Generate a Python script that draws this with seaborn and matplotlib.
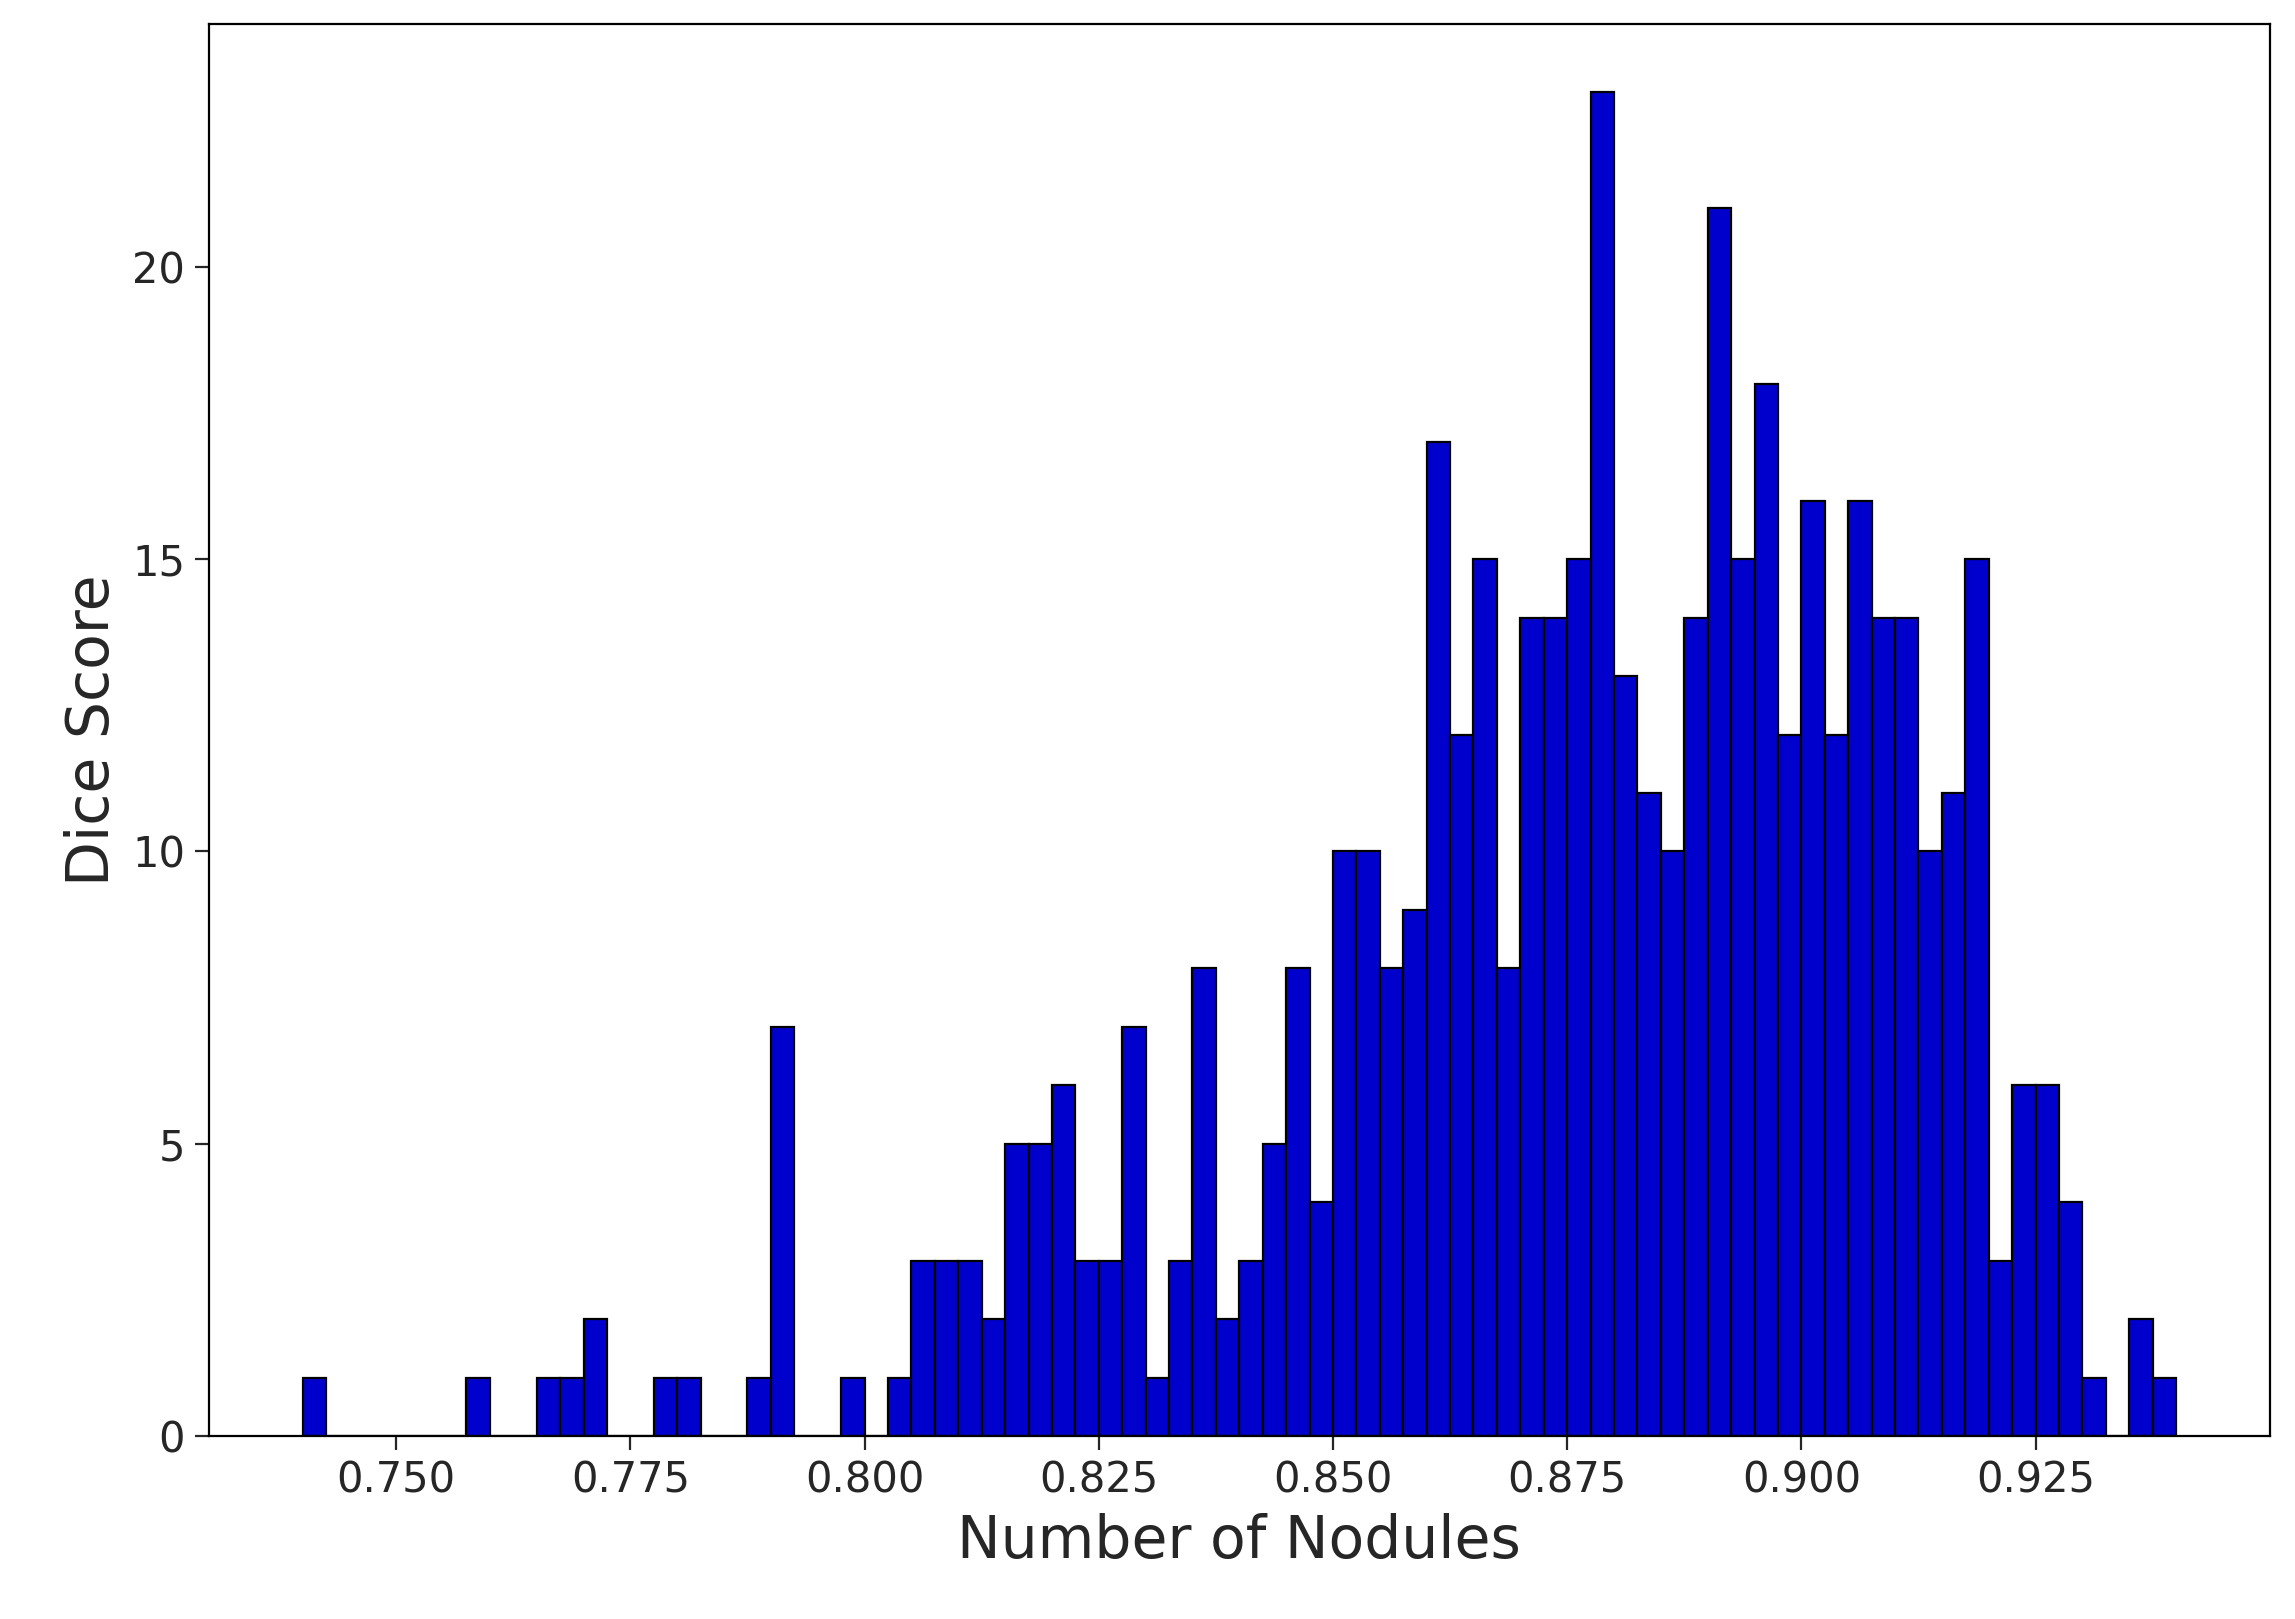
import numpy as np
import pandas as pd
import seaborn as sns
import matplotlib.pyplot as plt

bin_start = 0.740
bin_width = 0.0025
counts = [1, 0, 0, 0, 0, 0, 0, 1, 0, 0,
          1, 1, 2, 0, 0, 1, 1, 0, 0, 1,
          7, 0, 0, 1, 0, 1, 3, 3, 3, 2,
          5, 5, 6, 3, 3, 7, 1, 3, 8, 2,
          3, 5, 8, 4, 10, 10, 8, 9, 17, 12,
          15, 8, 14, 14, 15, 23, 13, 11, 10, 14,
          21, 15, 18, 12, 16, 12, 16, 14, 14, 10,
          11, 15, 3, 6, 6, 4, 1, 0, 2, 1]

edges = bin_start + bin_width * np.arange(len(counts) + 1)
df = pd.DataFrame({"dice": (edges[:-1] + edges[1:]) / 2, "n": counts})

sns.set_style("white")
fig, ax = plt.subplots(figsize=(11.475, 8.095), dpi=200)
sns.histplot(data=df, x="dice", weights="n", bins=len(counts),
             binrange=(edges[0], edges[-1]), color="#0000CD",
             edgecolor="black", linewidth=0.8, alpha=1, ax=ax)
ax.set_xlabel("Number of Nodules", fontsize=21)
ax.set_ylabel("Dice Score", fontsize=21)
ax.tick_params(labelsize=15, length=5, bottom=True, left=True)
ax.set_xticks([0.75, 0.775, 0.8, 0.825, 0.85, 0.875, 0.9, 0.925])
ax.set_yticks([0, 5, 10, 15, 20])
for s in ax.spines.values():
    s.set_color("black")
plt.subplots_adjust(left=0.091, right=0.989, top=0.985, bottom=0.113)
plt.savefig("out.png")
